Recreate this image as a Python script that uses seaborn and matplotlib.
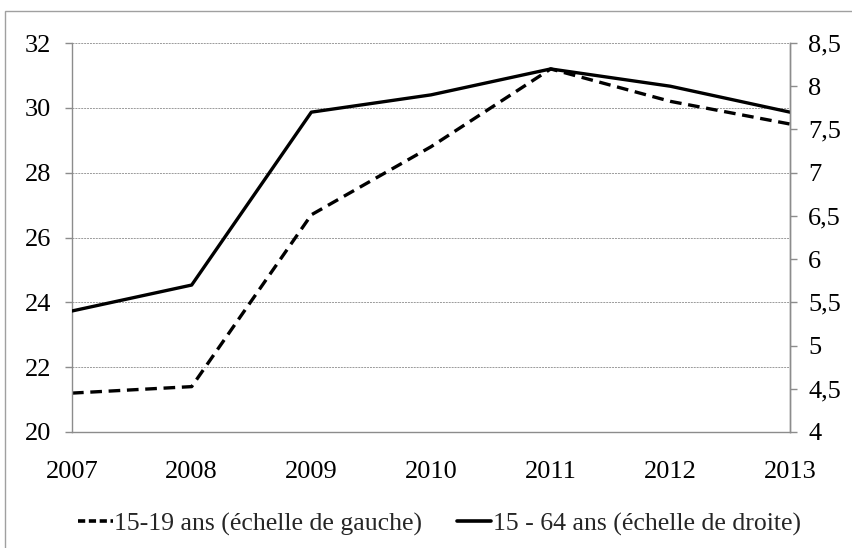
import matplotlib
matplotlib.use("Agg")
import matplotlib.pyplot as plt
import pandas as pd
import seaborn as sns
from matplotlib.lines import Line2D
from matplotlib.patches import Rectangle

# Data
years = [2007, 2008, 2009, 2010, 2011, 2012, 2013]
jeunes_15_19 = [21.2, 21.4, 26.7, 28.8, 31.2, 30.2, 29.5]   # left axis
actifs_15_64 = [5.4, 5.7, 7.7, 7.9, 8.2, 8.0, 7.7]          # right axis
left_ticks = [20, 22, 24, 26, 28, 30, 32]
right_ticks = [4, 4.5, 5, 5.5, 6, 6.5, 7, 7.5, 8, 8.5]
label_left = "15-19 ans (échelle de gauche)"
label_right = "15 - 64 ans (échelle de droite)"

df = pd.DataFrame({"annee": years, "jeunes": jeunes_15_19, "actifs": actifs_15_64})

sns.set_theme(style="white")
plt.rcParams["font.family"] = ["Liberation Serif", "DejaVu Serif"]

grey = "#8c8c8c"

fig = plt.figure(figsize=(8.53, 5.48), dpi=100)
ax = fig.add_axes([72 / 853, 1 - 432 / 548, (790 - 72) / 853, (432 - 43) / 548])
ax2 = ax.twinx()

sns.lineplot(data=df, x="annee", y="jeunes", ax=ax, color="black", lw=2.4,
             linestyle=(0, (3.5, 2)))
sns.lineplot(data=df, x="annee", y="actifs", ax=ax2, color="black", lw=2.4)

ax.set_xlim(2007, 2013)
ax.set_ylim(20, 32)
ax2.set_ylim(4, 8.5)
ax.set_xticks(years)
ax.set_xticklabels([str(y) for y in years])
ax.set_yticks(left_ticks)
ax.set_yticklabels([str(t) for t in left_ticks])
ax2.set_yticks(right_ticks)
ax2.set_yticklabels([f"{t:g}".replace(".", ",") for t in right_ticks])

ax.yaxis.grid(True, color="#9a9a9a", linestyle=(0, (2, 1)), lw=0.7)
ax.set_axisbelow(True)
ax.set_xlabel("")
ax.set_ylabel("")
ax2.set_ylabel("")

for a in (ax, ax2):
    a.spines["top"].set_visible(False)
    for s in ("left", "right", "bottom"):
        a.spines[s].set_color(grey)
        a.spines[s].set_linewidth(1)
    a.tick_params(axis="both", which="major", labelsize=19, colors=grey,
                  labelcolor="black", length=5, width=1, direction="out")
ax.tick_params(axis="x", pad=15, length=6)
ax.tick_params(axis="y", pad=10)
ax2.tick_params(axis="y", pad=8)
ax2.spines["left"].set_visible(False)
ax2.spines["bottom"].set_visible(False)

handles = [
    Line2D([0], [0], color="black", lw=2.6, linestyle=(0, (2, 1))),
    Line2D([0], [0], color="black", lw=2.6),
]
fig.legend(handles, [label_left, label_right], loc="center",
           bbox_to_anchor=(0.515, 1 - 524 / 548), ncol=2, frameon=False,
           fontsize=18.5, handlelength=1.35, handletextpad=0.05, columnspacing=1.35)

# outer chart frame (Excel style)
fig.add_artist(Rectangle((5 / 853, -0.1), 1.2, 1 - 11 / 548 + 0.1,
                         transform=fig.transFigure, fill=False,
                         edgecolor="#a0a0a0", lw=1, clip_on=False))

fig.savefig("out.png", dpi=100)
